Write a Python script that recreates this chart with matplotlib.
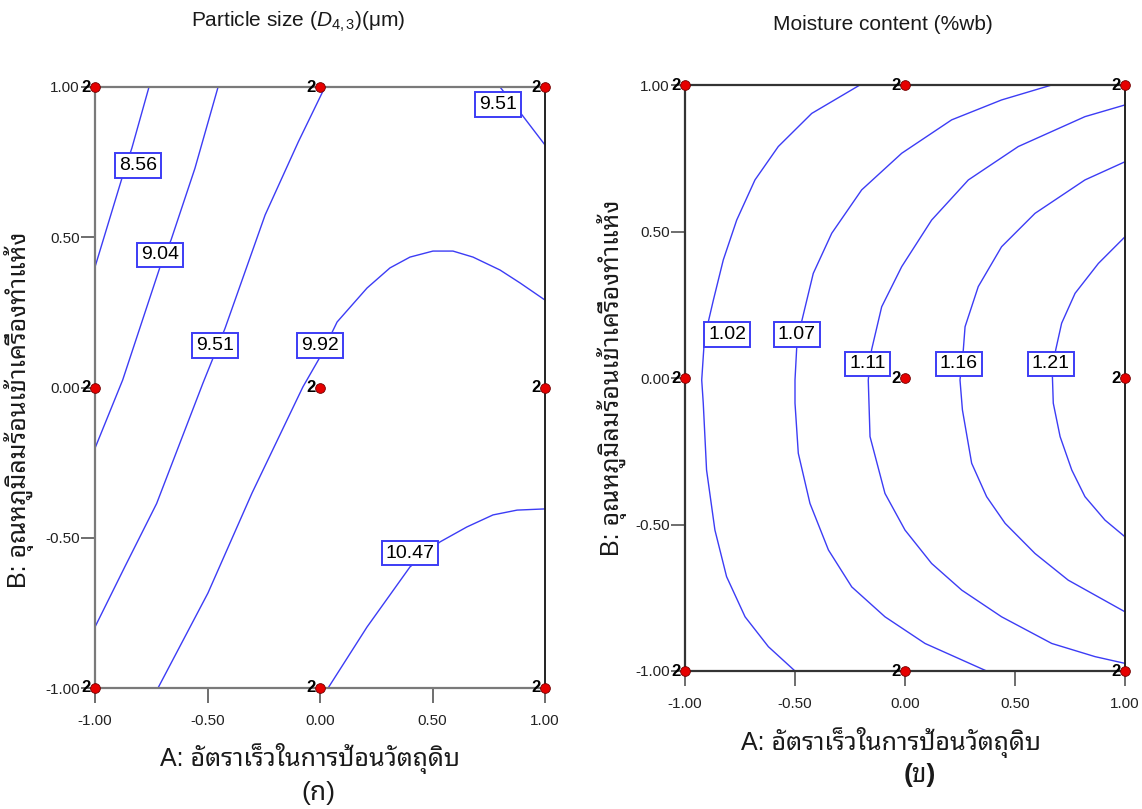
import matplotlib
matplotlib.use("Agg")
import matplotlib.pyplot as plt

plt.rcParams['font.family'] = ['Liberation Sans', 'Noto Sans Thai Looped', 'DejaVu Sans']
plt.rcParams['mathtext.fontset'] = 'custom'
plt.rcParams['mathtext.rm'] = 'Liberation Sans'
plt.rcParams['mathtext.it'] = 'Liberation Sans:italic'

# design points (coded A, B) with replicate counts
design_A = [-1, 0, 1, -1, 0, 1, -1, 0, 1]
design_B = [1, 1, 1, 0, 0, 0, -1, -1, -1]
design_n = [2, 2, 2, 2, 2, 2, 2, 2, 2]

# particle size D4,3 contours: level, A and B along each line, label spot
d43_levels = [8.56, 9.04, 9.51, 9.92, 10.47, 9.51]
d43_A = [
    [-0.760, -0.836, -0.876, -1.000],
    [-0.453, -0.556, -0.662, -0.711, -0.877, -1.000],
    [0.022, -0.096, -0.244, -0.422, -0.520, -0.726, -0.867, -1.000],
    [-0.720, -0.498, -0.302, -0.076, 0.000, 0.076, 0.209, 0.311, 0.400, 0.502,
     0.591, 0.680, 0.800, 0.889, 1.000],
    [0.036, 0.209, 0.400, 0.533, 0.653, 0.769, 0.876, 1.000],
    [0.800, 0.898, 1.000],
]
d43_B = [
    [1.000, 0.797, 0.707, 0.401],
    [1.000, 0.729, 0.491, 0.401, 0.025, -0.202],
    [1.000, 0.818, 0.574, 0.197, 0.015, -0.386, -0.596, -0.797],
    [-1.000, -0.684, -0.351, 0.002, 0.101, 0.218, 0.331, 0.398, 0.434, 0.454,
     0.454, 0.434, 0.391, 0.348, 0.291],
    [-1.000, -0.797, -0.597, -0.514, -0.464, -0.424, -0.408, -0.404],
    [1.000, 0.907, 0.807],
]
d43_lab_A = [-0.809, -0.711, -0.467, 0.000, 0.400, 0.791]
d43_lab_B = [0.740, 0.441, 0.141, 0.141, -0.551, 0.943]

# moisture content contours
mc_levels = [1.02, 1.07, 1.11, 1.16, 1.21]
mc_A = [
    [-0.205, -0.424, -0.576, -0.682, -0.765, -0.826, -0.871, -0.894, -0.914,
     -0.924, -0.917, -0.902, -0.864, -0.811, -0.727, -0.621, -0.500],
    [0.667, 0.439, 0.212, -0.015, -0.197, -0.333, -0.417, -0.470, -0.492,
     -0.500, -0.500, -0.485, -0.432, -0.348, -0.242, -0.091, 0.091, 0.371],
    [1.000, 0.818, 0.515, 0.288, 0.121, -0.015, -0.106, -0.152, -0.167,
     -0.159, -0.091, 0.000, 0.121, 0.258, 0.439, 0.667, 0.864, 1.000],
    [1.000, 0.818, 0.591, 0.439, 0.333, 0.273, 0.265, 0.250, 0.261, 0.303,
     0.371, 0.455, 0.591, 0.742, 1.000],
    [1.000, 0.879, 0.773, 0.712, 0.685, 0.670, 0.674, 0.705, 0.758, 0.818,
     0.909, 1.000],
]
mc_B = [
    [1.000, 0.903, 0.790, 0.676, 0.539, 0.403, 0.266, 0.192, 0.107, -0.007,
     -0.086, -0.314, -0.519, -0.678, -0.815, -0.917, -1.000],
    [1.000, 0.949, 0.881, 0.767, 0.642, 0.494, 0.357, 0.192, 0.107, -0.007,
     -0.086, -0.257, -0.428, -0.587, -0.713, -0.815, -0.906, -1.000],
    [0.932, 0.892, 0.790, 0.676, 0.539, 0.380, 0.243, 0.096, -0.007, -0.200,
     -0.394, -0.519, -0.633, -0.724, -0.815, -0.906, -0.951, -0.974],
    [0.738, 0.676, 0.562, 0.448, 0.312, 0.175, 0.096, -0.007, -0.109, -0.291,
     -0.405, -0.496, -0.599, -0.690, -0.798],
    [0.482, 0.391, 0.289, 0.187, 0.096, 0.005, -0.086, -0.200, -0.314, -0.405,
     -0.485, -0.542],
]
mc_lab_A = [-0.808, -0.492, -0.171, 0.245, 0.662]
mc_lab_B = [0.149, 0.149, 0.048, 0.048, 0.048]

ticks = [-1.0, -0.5, 0.0, 0.5, 1.0]
xlab = 'A: อัตราเร็วในการป้อนวัตถุดิบ'
ylab = 'B: อุณหภูมิลมร้อนเข้าเครื่องทำแห้ง'
line_col = '#3c3cf5'
text_col = '#1a1a1a'


def contour_panel(ax, levels, lines_A, lines_B, lab_A, lab_B, spine_col):
    for A, B in zip(lines_A, lines_B):
        ax.plot(A, B, color=line_col, lw=1.0, zorder=2, clip_on=False)
    for lev, a, b in zip(levels, lab_A, lab_B):
        ax.text(a, b, '{0:.2f}'.format(lev), fontsize=14, ha='center', va='center',
                zorder=4, clip_on=False,
                bbox=dict(boxstyle='square,pad=0.2', fc='white', ec=line_col, lw=1.4))
    ax.plot(design_A, design_B, 'o', color='#e60000', mec='#700000', mew=0.6,
            markersize=7, zorder=6, clip_on=False)
    for a, b, n in zip(design_A, design_B, design_n):
        ax.annotate(str(n), (a, b), xytext=(-3, 0), textcoords='offset points',
                    ha='right', va='center', fontsize=12, fontweight='bold',
                    zorder=5, annotation_clip=False)
    ax.set_xlim(-1, 1)
    ax.set_ylim(-1, 1)
    ax.set_xticks(ticks)
    ax.set_yticks(ticks)
    ax.set_xticklabels(['{0:.2f}'.format(t) for t in ticks])
    ax.set_yticklabels(['{0:.2f}'.format(t) for t in ticks])
    ax.tick_params(axis='x', direction='out', length=11, width=1.2, color='#555555',
                   labelsize=11, pad=8, labelcolor='#222222')
    ax.tick_params(axis='y', direction='out', length=10, width=1.2, color='#555555',
                   labelsize=11, pad=1, labelcolor='#222222')
    for side in ['left', 'top', 'bottom']:
        ax.spines[side].set_color(spine_col)
        ax.spines[side].set_linewidth(1.6)
    ax.spines['right'].set_color('#222222')
    ax.spines['right'].set_linewidth(1.4)


fig = plt.figure(figsize=(11.42, 8.09), dpi=100)
W, H = 1142.0, 809.0

ax1 = fig.add_axes([95 / W, 1 - 688 / H, 450 / W, 601 / H])
contour_panel(ax1, d43_levels, d43_A, d43_B, d43_lab_A, d43_lab_B, '#7a7a7a')

ax2 = fig.add_axes([685 / W, 1 - 671 / H, 440 / W, 586 / H])
contour_panel(ax2, mc_levels, mc_A, mc_B, mc_lab_A, mc_lab_B, '#333333')

fig.text(298 / W, 1 - 22 / H, r'Particle size ($D_{4,3}$)(μm)', fontsize=15,
         ha='center', va='center', color=text_col)
fig.text(883 / W, 1 - 25 / H, 'Moisture content (%wb)', fontsize=15,
         ha='center', va='center', color=text_col)

fig.text(310 / W, 1 - 758 / H, xlab, fontsize=18, ha='center', va='center', color=text_col)
fig.text(891 / W, 1 - 742 / H, xlab, fontsize=18, ha='center', va='center', color=text_col)
fig.text(19 / W, 1 - 410 / H, ylab, fontsize=18, rotation=90, ha='center', va='center',
         color=text_col)
fig.text(612 / W, 1 - 378 / H, ylab, fontsize=18, rotation=90, ha='center', va='center',
         color=text_col)

fig.text(318 / W, 1 - 793 / H, '(ก)', fontsize=19, ha='center', va='center', color=text_col)
fig.text(920 / W, 1 - 775 / H, '(ข)', fontsize=19, fontweight='bold', ha='center',
         va='center', color=text_col)

fig.savefig('out.png', dpi=100)
